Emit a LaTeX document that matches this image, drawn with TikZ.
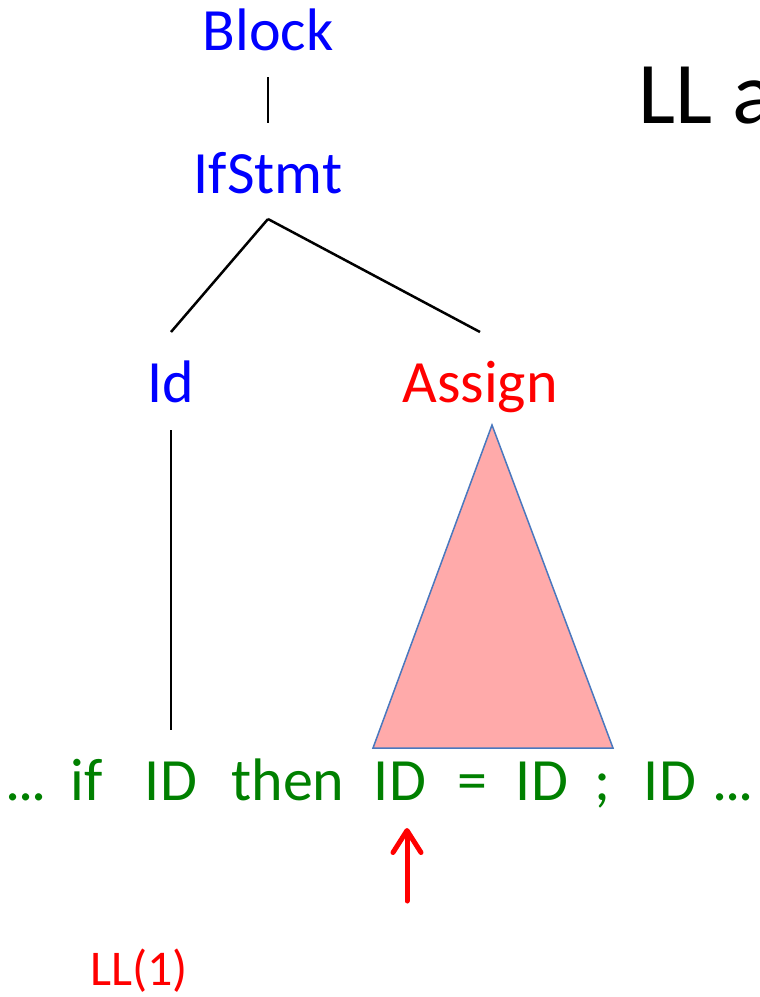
\documentclass[tikz,border=0pt]{standalone}
\usepackage{fontspec}
\setmainfont{Carlito}
\usetikzlibrary{arrows.meta}
\definecolor{tblue}{RGB}{0,0,255}
\definecolor{tgreen}{RGB}{0,128,0}
\definecolor{tred}{RGB}{255,0,0}
\definecolor{tripink}{RGB}{255,170,170}
\definecolor{triedge}{RGB}{74,120,190}
\newcommand{\tightdots}{.\kern-2.5pt.\kern-2.5pt.}
\tikzset{
  lbl/.style={inner sep=0pt, anchor=base, font=\fontsize{60}{72}\selectfont},
  nt/.style={lbl, text=tblue},
  ntred/.style={lbl, text=tred},
  tok/.style={lbl, text=tgreen},
  edge/.style={draw=black, line width=2.5pt},
}
\begin{document}
\begin{tikzpicture}[x=1pt,y=-1pt]
\useasboundingbox (0,0) rectangle (760,997);
% tree labels
\node[nt] (Block) at (268,50) {Block};
\node[nt] (IfStmt) at (268,193) {IfStmt};
\node[nt] (Id) at (171,402) {Id};
\node[ntred] (Assign) at (480,402) {Assign};
% title fragment
\node[inner sep=0pt, anchor=base west, font=\fontsize{88}{100}\selectfont] (title) at (638,123) {LL a};
% triangle under Assign
\draw[fill=tripink, draw=triedge, line width=1.5pt, line join=miter] (492,425) -- (613,748) -- (373,748) -- cycle;
% token row
\node[tok] (t1) at (26,800) {\tightdots};
\node[tok] (t2) at (87,800) {if};
\node[tok] (t3) at (171,800) {ID};
\node[tok] (t4) at (288,800) {then};
\node[tok] (t5) at (400,800) {ID};
\node[tok] (t6) at (472,800) {=};
\node[tok] (t7) at (542,800) {ID};
\node[tok] (t8) at (603,800) {;};
\node[tok] (t9) at (670,800) {ID};
\node[tok] (t10) at (733,800) {\tightdots};
% connectors
\draw[edge] ([yshift=-27pt]Block.base) -- ([yshift=70pt]IfStmt.base);
\draw[edge] ([yshift=-26pt]IfStmt.base) -- ([yshift=70pt]Id.base);
\draw[edge] ([yshift=-26pt]IfStmt.base) -- ([yshift=70pt]Assign.base);
\draw[edge] ([yshift=-28pt]Id.base) -- ([yshift=70pt]t3.base);
% red pointer
\coordinate (ptail) at (407,901);
\coordinate (ptip) at (407,828);
\draw[tred, line width=5pt, line cap=round, -{Straight Barb[length=22pt,width=28pt,line cap=round,line join=round]}] (ptail) -- (ptip);
\node[inner sep=0pt, anchor=base, text=tred, font=\fontsize{50}{60}\selectfont] (ll) at (139,985) {LL(1)};
\end{tikzpicture}
\end{document}
